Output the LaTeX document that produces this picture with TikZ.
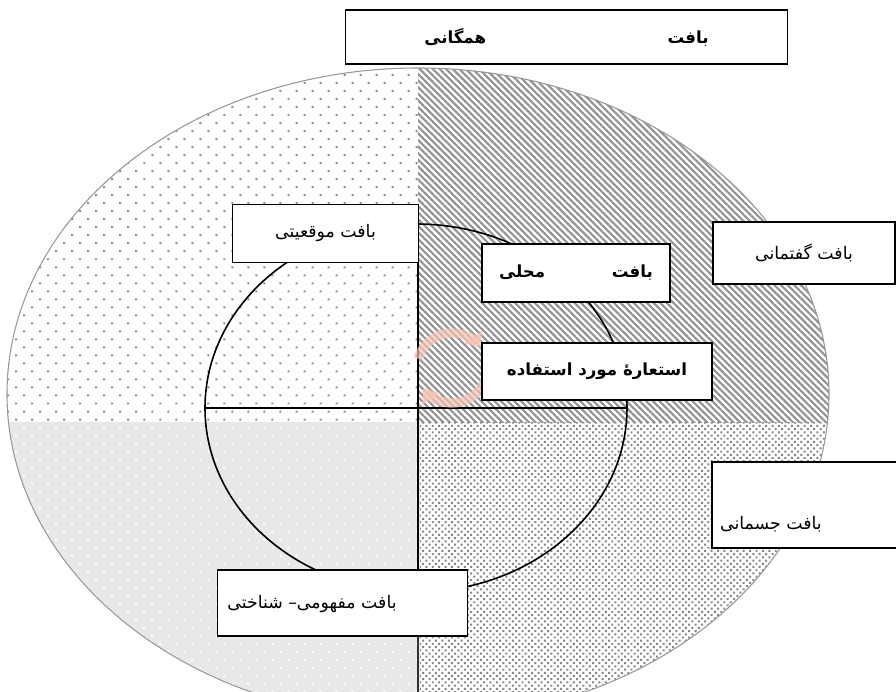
\documentclass[tikz,border=0pt]{standalone}
\usepackage{fontspec}
\usetikzlibrary{patterns.meta,arrows.meta,calc}
\newfontfamily\fa[Script=Arabic]{DejaVu Sans}
\TeXXeTstate=1
\definecolor{cyc}{RGB}{246,196,180}
\begin{document}
\begin{tikzpicture}[x=0.75pt,y=0.75pt,
  box/.style={draw=black, fill=white, line width=0.8pt, inner sep=0pt},
  thickbox/.style={box, line width=1.4pt},
  txt/.style={font=\fa\fontsize{13}{16}\selectfont, inner sep=0pt},
  btxt/.style={font=\fa\bfseries\fontsize{12.5}{15}\selectfont},
  inner/.style={line width=1.2pt, black},
  cycarc/.style={cyc, line width=7pt, opacity=0.7, -{Triangle[length=10pt,width=16pt]}}]
\useasboundingbox (0,0) rectangle (896,-692);
\clip (0,0) rectangle (896,-692);
\fill[white] (0,0) rectangle (896,-692);
% outer ellipse quadrants
\begin{scope}
  \clip (418,-394) ellipse [x radius=411, y radius=326];
  \fill[pattern={Dots[radius=1.05pt, distance=8.5pt, angle=45]}, pattern color=gray!90] (0,0) rectangle (418,-422);
  \fill[pattern={Lines[angle=-45, distance=3.5pt, line width=1.6pt]}, pattern color=gray!85] (418,0) rectangle (896,-422);
  \fill[gray!18] (0,-422) rectangle (420,-692);
  \fill[pattern={Dots[radius=1.1pt, distance=8.5pt, angle=45]}, pattern color=white] (0,-422) rectangle (420,-692);
  \fill[pattern={Dots[radius=1.05pt, distance=3.4pt, angle=45]}, pattern color=gray!95] (420,-422) rectangle (896,-692);
\end{scope}
\draw[gray!80, line width=0.8pt] (418,-394) ellipse [x radius=411, y radius=326];
% inner circle and cross
\coordinate (ic) at (416,-408);
\coordinate (hl) at (205,-408);
\coordinate (hr) at (627,-408);
\coordinate (vt) at (418,-224);
\coordinate (vm) at (418,-592);
\coordinate (vb) at (418,-692);
\draw[inner] (ic) ellipse [x radius=211, y radius=184];
\draw[inner] (hl) -- (hr);
\draw[inner] (vt) -- (vm);
\draw[line width=0.8pt, black!80] (vm) -- (vb);
% cycle icon
\coordinate (cc) at (452,-368);
\draw[cycarc] ($(cc)+(165:35)$) arc [start angle=165, end angle=35, radius=35];
\draw[cycarc] ($(cc)+(-15:35)$) arc [start angle=-15, end angle=-145, radius=35];
% boxes
\node[box, btxt, minimum width=332pt, minimum height=40.5pt] (top) at (566.5,-37)
  {\beginR بافت\hspace{136pt}همگانی\endR};
\node[box, txt, minimum width=140pt, minimum height=43pt] (mowq) at (325.5,-233.5) {\beginR بافت موقعیتی\endR};
\node[box, txt, minimum width=136.5pt, minimum height=46.5pt] (goft) at (804,-253) {\beginR بافت گفتمانی\endR};
\node[box, btxt, minimum width=141pt, minimum height=43.5pt] (mahal) at (576,-273)
  {\beginR بافت\hspace{50pt}محلی\endR};
\node[thickbox, btxt, minimum width=172.5pt, minimum height=43pt] (este) at (597,-371.5)
  {\beginR استعارهٔ مورد استفاده\endR};
\node[box, minimum width=141pt, minimum height=64.5pt] (jesm) at (806,-505) {};
\node[txt] (jesmt) at (771,-524) {\beginR بافت جسمانی\endR};
\node[box, minimum width=188pt, minimum height=49.5pt] (mafh) at (342.5,-603) {};
\node[txt] (mafht) at (312,-604) {\beginR بافت مفهومی– شناختی\endR};
\end{tikzpicture}
\end{document}
